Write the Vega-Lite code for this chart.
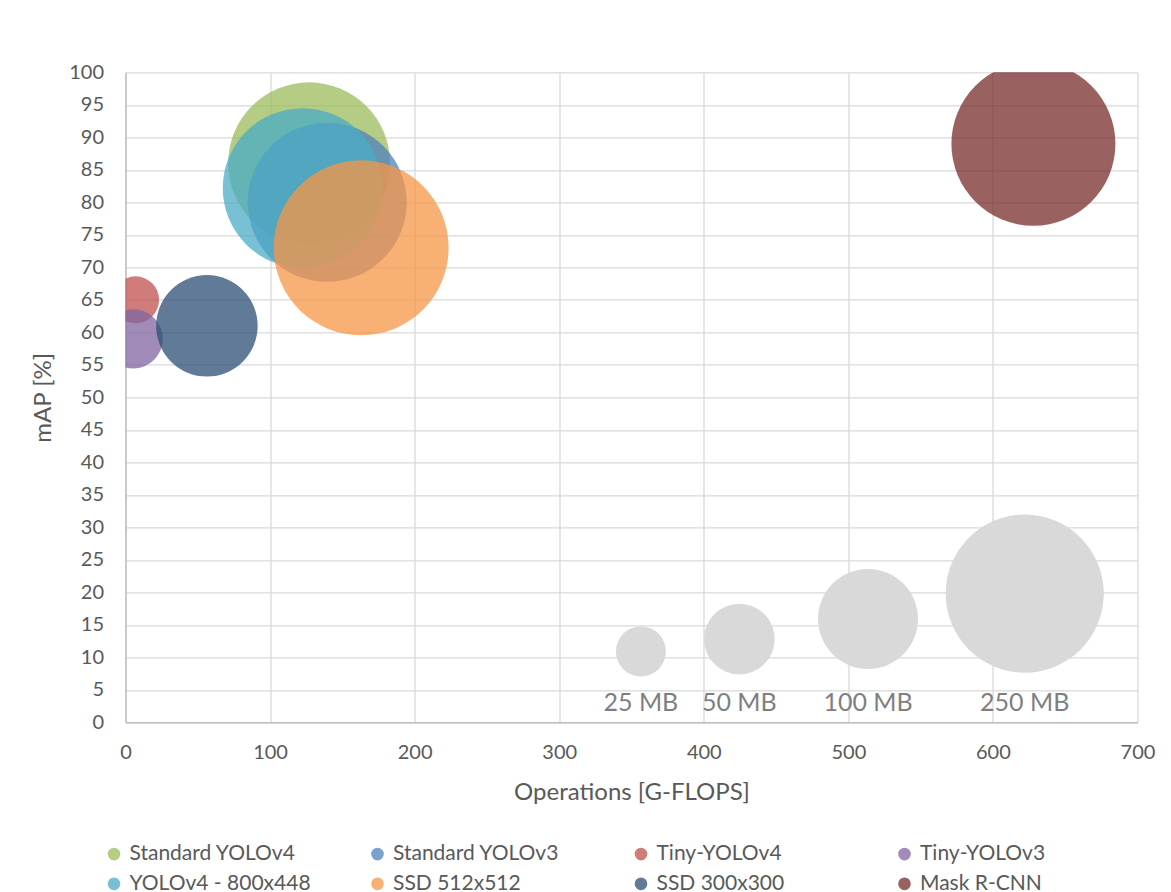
{
  "$schema": "https://vega.github.io/schema/vega-lite/v6.json",
  "width": 1012,
  "height": 650,
  "autosize": {"type": "none"},
  "padding": {"left": 125.5, "top": 72.3, "right": 33.5, "bottom": 169.7},
  "background": "white",
  "config": {
    "font": "Lato",
    "view": {"stroke": null},
    "axis": {
      "gridColor": "#D9D9D9",
      "gridWidth": 1.3,
      "domainColor": "#BFBFBF",
      "domainWidth": 1.5,
      "ticks": false,
      "labelColor": "#595959",
      "labelFontSize": 20,
      "labelOverlap": false,
      "labelFlush": false,
      "titleColor": "#595959",
      "titleFontSize": 24,
      "titleFontWeight": "normal"
    }
  },
  "datasets": {
    "models": [
      {"model": "Standard YOLOv4", "gflops": 127, "map": 86, "size_mb": 262},
      {"model": "Standard YOLOv3", "gflops": 139.5, "map": 80, "size_mb": 253},
      {"model": "Tiny-YOLOv4", "gflops": 7, "map": 65, "size_mb": 22},
      {"model": "Tiny-YOLOv3", "gflops": 5.4, "map": 59, "size_mb": 35},
      {"model": "YOLOv4 - 800x448", "gflops": 122.5, "map": 82.2, "size_mb": 255},
      {"model": "SSD 512x512", "gflops": 163, "map": 73, "size_mb": 306},
      {"model": "SSD 300x300", "gflops": 56.3, "map": 61, "size_mb": 103},
      {"model": "Mask R-CNN", "gflops": 628, "map": 89, "size_mb": 269}
    ],
    "size_key": [
      {"label": "25 MB", "gflops": 356.5, "map": 10.9, "size_mb": 25},
      {"label": "50 MB", "gflops": 424.6, "map": 12.8, "size_mb": 50},
      {"label": "100 MB", "gflops": 513.6, "map": 15.9, "size_mb": 100},
      {"label": "250 MB", "gflops": 622, "map": 19.8, "size_mb": 250}
    ]
  },
  "encoding": {
    "x": {
      "field": "gflops",
      "type": "quantitative",
      "scale": {"domain": [0, 700], "nice": false},
      "axis": {
        "values": [0, 100, 200, 300, 400, 500, 600, 700],
        "tickCount": 10,
        "labelFlush": false,
        "title": "Operations [G-FLOPS]",
        "labelPadding": 20,
        "titlePadding": 18
      }
    },
    "y": {
      "field": "map",
      "type": "quantitative",
      "scale": {"domain": [0, 100], "nice": false},
      "axis": {
        "values": [0, 5, 10, 15, 20, 25, 30, 35, 40, 45, 50, 55, 60, 65, 70, 75, 80, 85, 90, 95, 100],
        "tickCount": 25,
        "labelFlush": false,
        "title": "mAP [%]",
        "labelPadding": 22,
        "titlePadding": 13
      }
    }
  },
  "layer": [
    {
      "data": {"name": "size_key"},
      "mark": {"type": "point", "filled": true, "shape": "circle", "color": "#D9D9D9", "opacity": 1},
      "encoding": {
        "size": {
          "field": "size_mb",
          "type": "quantitative",
          "scale": {"type": "linear", "domain": [0, 250], "range": [0, 25000], "zero": true},
          "legend": null
        }
      }
    },
    {
      "data": {"name": "size_key"},
      "mark": {"type": "text", "fontSize": 25, "color": "#7F7F7F", "baseline": "middle", "align": "center"},
      "encoding": {
        "y": {"datum": 3.0, "type": "quantitative"},
        "text": {"field": "label", "type": "nominal"}
      }
    },
    {
      "data": {"name": "models"},
      "mark": {"type": "point", "filled": true, "shape": "circle", "opacity": 0.75, "clip": true},
      "encoding": {
        "size": {"field": "size_mb", "type": "quantitative", "legend": null},
        "color": {
          "field": "model",
          "type": "nominal",
          "scale": {
            "domain": ["Standard YOLOv4", "Standard YOLOv3", "Tiny-YOLOv4", "Tiny-YOLOv3", "YOLOv4 - 800x448", "SSD 512x512", "SSD 300x300", "Mask R-CNN"],
            "range": ["#9BBB59", "#4F81BD", "#C0504D", "#8064A2", "#4BACC6", "#F79646", "#2C4D75", "#772C2A"]
          },
          "legend": {
            "title": null,
            "orient": "none",
            "legendX": -22,
            "legendY": 771,
            "direction": "horizontal",
            "columns": 4,
            "gridAlign": "all",
            "columnPadding": 55.5,
            "rowPadding": 8,
            "padding": 0,
            "symbolType": "circle",
            "symbolSize": 160,
            "symbolOpacity": 0.75,
            "symbolStrokeWidth": 0,
            "labelFontSize": 21,
            "labelColor": "#595959",
            "labelOffset": 5,
            "labelLimit": 300
          }
        }
      }
    }
  ]
}
